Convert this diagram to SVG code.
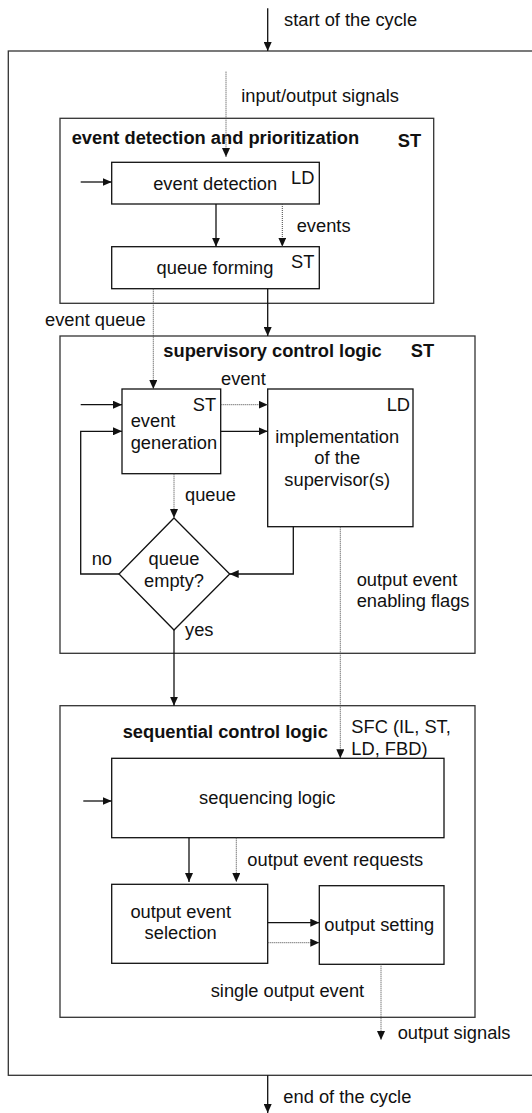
<svg xmlns="http://www.w3.org/2000/svg" width="532" height="1113" viewBox="0 0 532 1113">
<defs>
<marker id="ah" markerUnits="userSpaceOnUse" markerWidth="9" markerHeight="8" refX="9" refY="4" orient="auto">
<path d="M0,0 L9,4 L0,8 z" fill="#111"/>
</marker>
<style>
text{font-family:"Liberation Sans",Arial,sans-serif;font-size:18.3px;fill:#111}
.b{font-weight:bold}
.m{text-anchor:middle}
.box{fill:#fff;stroke:#111;stroke-width:1.3}
.frame{fill:none;stroke:#333;stroke-width:1.3}
.s{fill:none;stroke:#111;stroke-width:1.3}
.d{fill:none;stroke:#444;stroke-width:1;stroke-dasharray:1,1}
</style>
</defs>
<rect width="532" height="1113" fill="#fff"/>

<g id="outer">
<rect class="frame" x="8.3" y="51" width="540" height="1024.3"/>
<text x="284" y="26">start of the cycle</text>
<text x="283.3" y="1103.3">end of the cycle</text>
</g>

<g id="edp">
<rect class="frame" x="60" y="118.3" width="373.7" height="185"/>
<text class="b" x="71.7" y="144">event detection and prioritization</text>
<text class="b" x="397.7" y="146.7">ST</text>
</g>
<g id="event-detection">
<rect class="box" x="111.7" y="162.3" width="207.6" height="41.7"/>
<text class="m" x="215.2" y="190">event detection</text>
<text x="291" y="184.3">LD</text>
</g>
<g id="queue-forming">
<rect class="box" x="111.7" y="246.7" width="207.6" height="42"/>
<text class="m" x="215" y="274">queue forming</text>
<text x="291" y="268.3">ST</text>
</g>

<g id="scl">
<rect class="frame" x="60" y="336" width="415" height="317.3"/>
<text class="b" x="163.3" y="357.3">supervisory control logic</text>
<text class="b" x="410.7" y="357.3">ST</text>
</g>
<g id="event-generation">
<rect class="box" x="122" y="389" width="98.7" height="84.7"/>
<text x="192.7" y="410.7">ST</text>
<text x="130.7" y="426.7">event</text>
<text x="130.7" y="448.7">generation</text>
</g>
<g id="implementation">
<rect class="box" x="267.7" y="389" width="145.3" height="137.7"/>
<text x="386.7" y="410.7">LD</text>
<text class="m" x="337.2" y="443.3">implementation</text>
<text class="m" x="337.2" y="464">of the</text>
<text class="m" x="337.2" y="485.7">supervisor(s)</text>
</g>
<g id="queue-empty">
<polygon class="box" points="174,518 229.7,574 174,630 119,574"/>
<text class="m" x="174" y="565">queue</text>
<text class="m" x="174" y="586.7">empty?</text>
</g>

<g id="seq">
<rect class="frame" x="60" y="705.7" width="415" height="311.6"/>
<text class="b" x="122.7" y="738.3">sequential control logic</text>
<text x="351.3" y="732.7">SFC (IL, ST,</text>
<text x="351.3" y="755">LD, FBD)</text>
</g>
<g id="sequencing-logic">
<rect class="box" x="111.7" y="758.3" width="332.3" height="79.4"/>
<text class="m" x="267.2" y="804.3">sequencing logic</text>
</g>
<g id="output-event-selection">
<rect class="box" x="111.7" y="884.3" width="156" height="79"/>
<text class="m" x="180.7" y="917.7">output event</text>
<text class="m" x="180.7" y="939.3">selection</text>
</g>
<g id="output-setting">
<rect class="box" x="319.3" y="885.7" width="124.7" height="78.6"/>
<text x="324.3" y="931">output setting</text>
</g>

<g id="connectors">
<line class="s" x1="267.7" y1="8.3" x2="267.7" y2="51" marker-end="url(#ah)"/>
<line class="d" x1="226" y1="71.7" x2="226" y2="157" marker-end="url(#ah)"/>
<line class="s" x1="80.7" y1="182" x2="111.7" y2="182" marker-end="url(#ah)"/>
<line class="s" x1="216" y1="204" x2="216" y2="246.7" marker-end="url(#ah)"/>
<line class="d" x1="282.3" y1="204" x2="282.3" y2="246.7" marker-end="url(#ah)"/>
<line class="d" x1="153.3" y1="288.7" x2="153.3" y2="389" marker-end="url(#ah)"/>
<line class="s" x1="267.7" y1="288.7" x2="267.7" y2="336" marker-end="url(#ah)"/>
<line class="s" x1="80.7" y1="404.7" x2="122" y2="404.7" marker-end="url(#ah)"/>
<line class="d" x1="220.7" y1="404.7" x2="267.7" y2="404.7" marker-end="url(#ah)"/>
<line class="s" x1="220.7" y1="431.3" x2="267.7" y2="431.3" marker-end="url(#ah)"/>
<polyline class="s" points="119,574 80.7,574 80.7,431.3 122,431.3" marker-end="url(#ah)"/>
<line class="d" x1="174" y1="473.7" x2="174" y2="518" marker-end="url(#ah)"/>
<polyline class="s" points="293.3,526.7 293.3,574 229.7,574" marker-end="url(#ah)"/>
<line class="d" x1="340.3" y1="526.7" x2="340.3" y2="758.3" marker-end="url(#ah)"/>
<line class="s" x1="174" y1="630" x2="174" y2="705.7" marker-end="url(#ah)"/>
<line class="s" x1="83.3" y1="801" x2="111.7" y2="801" marker-end="url(#ah)"/>
<line class="s" x1="189" y1="837.7" x2="189" y2="882" marker-end="url(#ah)"/>
<line class="d" x1="236.3" y1="837.7" x2="236.3" y2="882" marker-end="url(#ah)"/>
<line class="s" x1="267.7" y1="922.7" x2="319.3" y2="922.7" marker-end="url(#ah)"/>
<line class="d" x1="267.7" y1="942.7" x2="319.3" y2="942.7" marker-end="url(#ah)"/>
<line class="d" x1="381" y1="964.3" x2="381" y2="1040" marker-end="url(#ah)"/>
<line class="s" x1="267.7" y1="1075.3" x2="267.7" y2="1113" marker-end="url(#ah)"/>
<text x="241.3" y="101.7">input/output signals</text>
<text x="296.7" y="231.7">events</text>
<text x="45" y="326">event queue</text>
<text x="221" y="385">event</text>
<text x="185" y="501">queue</text>
<text x="91.7" y="565">no</text>
<text x="185" y="636">yes</text>
<text x="356.7" y="585.7">output event</text>
<text x="356.7" y="606.7">enabling flags</text>
<text x="247.3" y="866">output event requests</text>
<text x="210.7" y="996.7">single output event</text>
<text x="397.7" y="1039.3">output signals</text>
</g>
</svg>
